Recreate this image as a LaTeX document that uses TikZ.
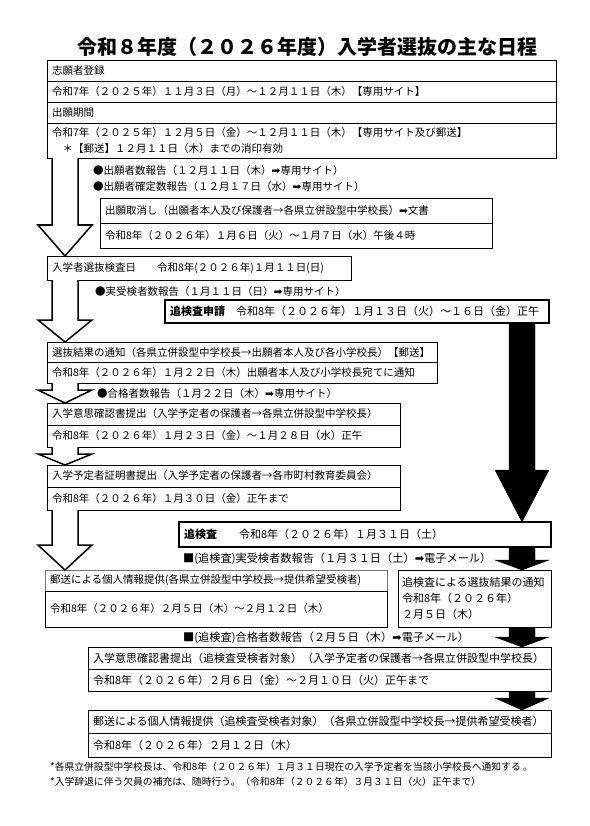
\documentclass[tikz,border=0pt]{standalone}
\usepackage{fontspec}
\setmainfont{Noto Sans CJK JP}
\newfontfamily\symfont{DejaVu Sans}
\usepackage{tikz}
\usetikzlibrary{positioning,calc}
\newcommand\toarr{{\symfont\char"27A1}}
% block arrow from a box bottom to the top of the next box
\newcommand\flowarrow[4]{%
  \draw[#1] let \p1=(#2), \p2=(#3) in
    ({\x1-13pt},\y1) -- ({\x1-13pt},{\y2+#4pt}) -- ({\x1-27pt},{\y2+#4pt})
    -- (\x1,\y2) -- ({\x1+27pt},{\y2+#4pt}) -- ({\x1+13pt},{\y2+#4pt})
    -- ({\x1+13pt},\y1);}

\begin{document}
\begin{tikzpicture}[
  x=1pt, y=-1pt,
  rowbox/.style={draw, line width=0.7pt, anchor=north west, outer sep=0pt,
    inner xsep=5pt, inner ysep=1pt, text width=#1, minimum height=21pt,
    align=left, font=\fontsize{10.5}{16}\selectfont},
  lowbox/.style={rowbox=#1, line width=1pt, font=\fontsize{11}{16}\selectfont},
  keybox/.style={rowbox=#1, line width=1.6pt, font=\fontsize{11}{14}\selectfont},
  memo/.style={anchor=west, inner sep=0pt, font=\fontsize{10.5}{14}\selectfont},
  note/.style={anchor=west, inner sep=0pt, font=\fontsize{9.8}{12}\selectfont},
  openarrow/.style={draw, line width=1.5pt, fill=white, line join=miter},
  blackarrow/.style={fill=black},
  ]
  \useasboundingbox (0,0) rectangle (589,826);
  \coordinate (axl) at (65,0);
  \coordinate (axr) at (522,0);

  \node[font=\fontsize{20}{24}\selectfont\bfseries] (title) at (307,47) {令和８年度（２０２６年度）入学者選抜の主な日程};

  % registration and application period
  \node[rowbox=499pt] (reg1) at (47,60) {志願者登録};
  \node[rowbox=499pt, below=0pt of reg1] (reg2) {令和7年（２０２５年）１１月３日（月）～１２月１１日（木）【専用サイト】};
  \node[rowbox=499pt, below=0pt of reg2] (reg3) {出願期間};
  \node[rowbox=499pt, below=0pt of reg3, minimum height=35pt] (reg4) {令和7年（２０２５年）１２月５日（金）～１２月１１日（木）【専用サイト及び郵送】\\　＊【郵送】１２月１１日（木）までの消印有効};

  \node[memo] (cnt1) at (93,171) {●出願者数報告（１２月１１日（木）\toarr 専用サイト）};
  \node[memo] (cnt2) at (93,187) {●出願者確定数報告（１２月１７日（水）\toarr 専用サイト）};

  \node[rowbox=382pt, minimum height=25pt] (cxl1) at (100,198) {出願取消し（出願者本人及び保護者→各県立併設型中学校長）\toarr 文書};
  \node[rowbox=382pt, minimum height=25pt, below=0pt of cxl1] (cxl2) {令和8年（２０２６年）１月６日（火）～１月７日（水）午後４時};

  % examination day
  \node[rowbox=294pt, minimum height=24pt] (exam) at (47,256) {入学者選抜検査日　　令和8年(２０２６年)１月１１日(日)};
  \node[memo] (cnt3) at (95,292) {●実受検者数報告（１月１１日（日）\toarr 専用サイト）};

  \node[keybox=374pt, minimum height=23pt] (apply) at (165,300) {\textbf{追検査申請}　令和8年（２０２６年）１月１３日（火）～１６日（金）正午};

  % results and documents
  \node[rowbox=380pt, minimum height=20.5pt] (res1) at (47,342) {選抜結果の通知（各県立併設型中学校長→出願者本人及び各小学校長）【郵送】};
  \node[rowbox=380pt, minimum height=20.5pt, below=0pt of res1] (res2) {令和8年（２０２６年）１月２２日（木）出願者本人及び小学校長宛てに通知};
  \node[memo] (cnt4) at (97,394) {●合格者数報告（１月２２日（木）\toarr 専用サイト）};

  \node[rowbox=343pt, minimum height=22pt] (int1) at (47,403) {入学意思確認書提出（入学予定者の保護者→各県立併設型中学校長）};
  \node[rowbox=343pt, minimum height=22pt, below=0pt of int1] (int2) {令和8年（２０２６年）１月２３日（金）～１月２８日（水）正午};

  \node[rowbox=343pt, minimum height=22pt] (cert1) at (47,465) {入学予定者証明書提出（入学予定者の保護者→各市町村教育委員会）};
  \node[rowbox=343pt, minimum height=23pt, below=0pt of cert1] (cert2) {令和8年（２０２６年）１月３０日（金）正午まで};

  % re-examination
  \node[keybox=362pt, minimum height=25pt] (retest) at (179,522) {\textbf{追検査}　　令和8年（２０２６年）１月３１日（土）};
  \node[memo, font=\fontsize{11.2}{14}\selectfont] (rcnt1) at (183,559) {■(追検査)実受検者数報告（１月３１日（土）\toarr 電子メール）};

  \node[rowbox=332pt, draw=black!55] (mail1) at (45,570) {郵送による個人情報提供(各県立併設型中学校長→提供希望受検者)};
  \node[rowbox=332pt, minimum height=36pt, below=0pt of mail1] (mail2) {令和8年（２０２６年）２月５日（木）～２月１２日（木）};

  \node[lowbox=145pt, inner xsep=4pt, minimum height=57pt] (rres) at (398,570) {追検査による選抜結果の通知\\令和8年（２０２６年）\\２月５日（木）};
  \node[memo, font=\fontsize{11.2}{14}\selectfont] (rcnt2) at (183,637.5) {■(追検査)合格者数報告（２月５日（木）\toarr 電子メール）};

  \node[lowbox=453pt, minimum height=22pt] (rint1) at (88,647) {入学意思確認書提出（追検査受検者対象）（入学予定者の保護者→各県立併設型中学校長）};
  \node[lowbox=453pt, minimum height=22pt, below=0pt of rint1] (rint2) {令和8年（２０２６年）２月６日（金）～２月１０日（火）正午まで};

  \node[lowbox=453pt, minimum height=23pt] (rmail1) at (88,710) {郵送による個人情報提供（追検査受検者対象）（各県立併設型中学校長→提供希望受検者）};
  \node[lowbox=453pt, minimum height=24pt, below=0pt of rmail1] (rmail2) {令和8年（２０２６年）２月１２日（木）};

  \node[note] (fn1) at (50,767) {*各県立併設型中学校長は、令和8年（２０２６年）１月３１日現在の入学予定者を当該小学校長へ通知する 。};
  \node[note] (fn2) at (50,782) {*入学辞退に伴う欠員の補充は、随時行う。（令和8年（２０２６年）３月３１日（火）正午まで）};

  % flow arrows
  \flowarrow{openarrow}{reg4.south -| axl}{exam.north -| axl}{31}
  \flowarrow{openarrow}{exam.south -| axl}{res1.north -| axl}{22}
  \flowarrow{openarrow}{res2.south -| axl}{int1.north -| axl}{13}
  \flowarrow{openarrow}{int2.south -| axl}{cert1.north -| axl}{11}
  \flowarrow{openarrow}{cert2.south -| axl}{mail1.north -| axl}{25}
  \flowarrow{blackarrow}{apply.south -| axr}{retest.north -| axr}{52}
  \flowarrow{blackarrow}{retest.south -| axr}{rres.north -| axr}{10}
  \flowarrow{blackarrow}{rres.south -| axr}{rint1.north -| axr}{10}
  \flowarrow{blackarrow}{rint2.south -| axr}{rmail1.north -| axr}{12}
\end{tikzpicture}
\end{document}
